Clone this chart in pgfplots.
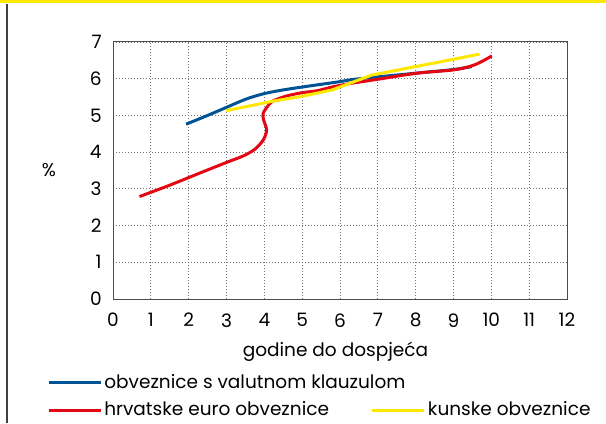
\documentclass[border=0pt]{standalone}
\usepackage{pgfplots}
\pgfplotsset{compat=1.18}
\usepackage{fontspec}
\setmainfont{Poppins}
\definecolor{cblue}{RGB}{0,84,150}
\definecolor{cred}{RGB}{227,6,19}
\definecolor{cyel}{RGB}{255,232,0}
\begin{document}
\fontsize{18.5bp}{22bp}\selectfont
\begin{tikzpicture}
\path (0bp,0bp) rectangle (606bp,423bp);
\fill[cyel] (0bp,420bp) rectangle (606bp,423bp);
\draw[line width=1.2bp, black!75] (7bp,0bp) -- (7bp,419bp);
\begin{axis}[
  at={(113bp,124bp)}, anchor=south west,
  scale only axis, width=454bp, height=257bp,
  xmin=0, xmax=12, ymin=0, ymax=7,
  xtick={0,1,...,12}, ytick={0,1,...,7},
  major tick length=0pt,
  grid=major,
  major grid style={line width=0.8bp, black!55, dash pattern=on 1bp off 2bp},
  axis line style={line width=1bp, black!70},
  /pgf/number format/assume math mode=true,
  xticklabel style={yshift=-8bp},
  yticklabel style={xshift=-5bp},
  xlabel={godine do dospjeća},
  xlabel style={at={(axis description cs:0.49,0)}, anchor=base, yshift=-57bp},
  ylabel={\%},
  ylabel style={at={(axis description cs:-0.141,0.5)}, rotate=-90, anchor=center},
  legend columns=2,
  legend cell align=left,
  legend image code/.code={\draw[#1, line width=2.8bp] (0bp,0bp) -- (45bp,0bp); \path (0bp,0bp) -- (52bp,0bp);},
  legend style={at={(axis description cs:-0.145,-0.283)}, anchor=north west,
    draw=none, fill=none, inner sep=0pt, row sep=7bp,
    /tikz/every even column/.append style={column sep=40bp}},
]
\addplot[cblue, line width=3bp, smooth] coordinates {
(1.93,4.76) (2.5,5.0) (3.0,5.22) (3.53,5.45) (4.02,5.60) (4.59,5.71) (5.38,5.83) (6.0,5.92) (6.27,5.97) (7,6.05) (8,6.15) (9,6.25) (9.48,6.33)};
\addlegendentry{\makebox[0pt][l]{obveznice s valutnom klauzulom}}
\addlegendimage{empty legend}\addlegendentry{}
\addplot[cred, line width=3bp, smooth] coordinates {
(0.70,2.79) (1.5,3.10) (2.39,3.47) (3.0,3.72) (3.45,3.90) (3.75,4.08) (3.97,4.33) (4.06,4.60) (3.98,4.88) (3.97,5.06) (4.11,5.28) (4.24,5.40) (4.59,5.53) (5.0,5.62) (5.38,5.67) (5.82,5.78) (6.27,5.87) (6.97,5.98) (8.03,6.15) (9.0,6.24) (9.48,6.35) (9.75,6.47) (10.01,6.62)};
\addlegendentry{hrvatske euro obveznice}
\addplot[cyel, line width=3bp] coordinates {
(2.99,5.13) (4.24,5.39) (4.94,5.51) (5.78,5.69) (6.84,6.10) (8.0,6.33) (9.0,6.53) (9.69,6.67)};
\addlegendentry{kunske obveznice}
\end{axis}
\end{tikzpicture}
\end{document}
